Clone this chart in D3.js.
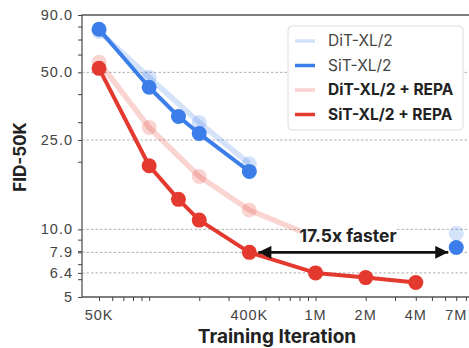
<!DOCTYPE html>
<html>
<head>
<meta charset="utf-8">
<script src="https://cdn.jsdelivr.net/npm/d3@7"></script>
<style>
  body { margin: 0; background: #fff; }
  svg { display: block; font-family: Inter, "Noto Sans", sans-serif; }
</style>
</head>
<body>
<svg id="chart" width="469" height="348"></svg>
<script>
// values
const xTickValues = [50e3, 400e3, 1e6, 2e6, 4e6, 7e6];
const xTickLabels = ['50K', '400K', '1M', '2M', '4M', '7M'];
const yTickValues = [5, 6.4, 7.9, 10, 25, 50, 90];
const yTickLabels = ['5', '6.4', '7.9', '10.0', '25.0', '50.0', '90.0'];
const yGridValues = [6.4, 7.9, 10, 25, 50];

const ditIters = [50e3, 100e3, 200e3, 400e3];
const ditFid = [76, 47.5, 29.9, 19.6];
const sitIters = [50e3, 100e3, 150e3, 200e3, 400e3];
const sitFid = [77.8, 42.9, 31.8, 26.7, 18.1];
const ditRepaIters = [50e3, 100e3, 200e3, 400e3, 1e6];
const ditRepaFid = [55.5, 28.4, 17.2, 12.2, 9.2];
const sitRepaIters = [50e3, 100e3, 150e3, 200e3, 400e3, 1e6, 2e6, 4e6];
const sitRepaFid = [52.1, 19.2, 13.6, 11.0, 7.9, 6.4, 6.1, 5.8];

// lone points at 7M
const finalIter = 7e6;
const ditFinalFid = 9.6;
const sitFinalFid = 8.3;

const speedupLabel = '17.5x faster';

const BLUE = '#3b7de9';
const RED = '#e4392e';
const FADE = 0.22;

const series = [
  { name: 'DiT-XL/2', iters: ditIters, fid: ditFid, color: BLUE, faded: true, bold: false },
  { name: 'SiT-XL/2', iters: sitIters, fid: sitFid, color: BLUE, faded: false, bold: false },
  { name: 'DiT-XL/2 + REPA', iters: ditRepaIters, fid: ditRepaFid, color: RED, faded: true, bold: true },
  { name: 'SiT-XL/2 + REPA', iters: sitRepaIters, fid: sitRepaFid, color: RED, faded: false, bold: true }
];

const svg = d3.select('#chart');
const plot = { left: 82, top: 15, right: 476, bottom: 297 };

const x = d3.scaleLog().domain([39.5e3, 9.2e6]).range([plot.left, plot.right]);
const y = d3.scaleLog().domain([5, 90]).range([plot.bottom, plot.top]);

// frame (top + left + bottom)
svg.append('path')
  .attr('d', `M${plot.right},${plot.top}H${plot.left}V${plot.bottom}H${plot.right}`)
  .attr('fill', 'none')
  .attr('stroke', '#555')
  .attr('stroke-width', 1.3);

// dashed grid
svg.append('g')
  .selectAll('line')
  .data(yGridValues)
  .join('line')
  .attr('x1', plot.left)
  .attr('x2', plot.right)
  .attr('y1', d => y(d))
  .attr('y2', d => y(d))
  .attr('stroke', '#999')
  .attr('stroke-width', 0.8)
  .attr('stroke-dasharray', '2.5,2');

// x axis: minor log ticks + labelled ticks
const xMinor = x.ticks().filter(d => d >= 50e3);
const $xAxis = svg.append('g').attr('transform', `translate(0,${plot.bottom})`);
$xAxis.call(
  d3.axisBottom(x).tickValues(xMinor).tickSize(4).tickFormat('')
).call(g => g.select('.domain').remove())
  .call(g => g.selectAll('line').attr('stroke', '#444'));
$xAxis.append('g')
  .selectAll('text')
  .data(xTickValues)
  .join('text')
  .attr('x', d => x(d))
  .attr('y', 23)
  .attr('text-anchor', 'middle')
  .attr('font-size', 14.5)
  .attr('letter-spacing', 1)
  .attr('fill', '#444')
  .text((d, i) => xTickLabels[i]);

// y axis
const yMinor = y.ticks();
const $yAxis = svg.append('g').attr('transform', `translate(${plot.left},0)`);
$yAxis.call(
  d3.axisLeft(y).tickValues(d3.union(yMinor, yTickValues)).tickSize(4).tickFormat('')
).call(g => g.select('.domain').remove())
  .call(g => g.selectAll('line').attr('stroke', '#444'));
$yAxis.append('g')
  .selectAll('text')
  .data(yTickValues)
  .join('text')
  .attr('x', -9)
  .attr('y', d => y(d))
  .attr('dy', '0.35em')
  .attr('text-anchor', 'end')
  .attr('font-size', 14.5)
  .attr('letter-spacing', 1)
  .attr('fill', '#444')
  .text((d, i) => yTickLabels[i]);

// axis titles
svg.append('text')
  .attr('x', 277)
  .attr('y', 343)
  .attr('text-anchor', 'middle')
  .attr('font-size', 19)
  .attr('font-weight', 700)
  .attr('fill', '#222')
  .text('Training Iteration');

svg.append('text')
  .attr('transform', 'translate(26,157) rotate(-90)')
  .attr('text-anchor', 'middle')
  .attr('font-size', 17)
  .attr('font-weight', 700)
  .attr('fill', '#222')
  .text('FID-50K');

// series
const line = d3.line().x(d => x(d[0])).y(d => y(d[1]));
const $series = svg.append('g')
  .selectAll('g')
  .data(series)
  .join('g');

$series.append('path')
  .attr('d', d => line(d3.zip(d.iters, d.fid)))
  .attr('fill', 'none')
  .attr('stroke', d => d.color)
  .attr('stroke-width', d => d.faded ? 5.5 : 4)
  .attr('stroke-linejoin', 'round')
  .attr('opacity', d => d.faded ? FADE : 1);

$series.each(function(s) {
  d3.select(this)
    .selectAll('circle')
    .data(d3.zip(s.iters, s.fid))
    .join('circle')
    .attr('cx', d => x(d[0]))
    .attr('cy', d => y(d[1]))
    .attr('r', 7.5)
    .attr('fill', s.color)
    .attr('opacity', s.faded ? FADE : 1);
});

// lone 7M points
svg.append('circle')
  .attr('cx', x(finalIter)).attr('cy', y(ditFinalFid)).attr('r', 7.5)
  .attr('fill', BLUE).attr('opacity', FADE);
svg.append('circle')
  .attr('cx', x(finalIter)).attr('cy', y(sitFinalFid)).attr('r', 7.5)
  .attr('fill', BLUE);

// speed-up arrow
const defs = svg.append('defs');
['start', 'end'].forEach(k => {
  defs.append('marker')
    .attr('id', 'arrow-' + k)
    .attr('viewBox', '0 0 10 10')
    .attr('refX', 10)
    .attr('refY', 5)
    .attr('markerWidth', 5.5)
    .attr('markerHeight', 5)
    .attr('markerUnits', 'strokeWidth')
    .attr('orient', k === 'start' ? 'auto-start-reverse' : 'auto')
    .append('path')
    .attr('d', 'M0,0L10,5L0,10Z')
    .attr('fill', '#111');
});

const arrowY = y(7.9);
const labelX = 348;
const $label = svg.append('g');
$label.append('rect')
  .attr('x', labelX - 48)
  .attr('y', arrowY - 28)
  .attr('width', 96)
  .attr('height', 22)
  .attr('fill', '#fff');
$label.append('text')
  .attr('x', labelX)
  .attr('y', arrowY - 10)
  .attr('text-anchor', 'middle')
  .attr('font-size', 17.5)
  .attr('font-weight', 700)
  .attr('fill', '#222')
  .text(speedupLabel);

svg.append('line')
  .attr('x1', x(400e3) + 9)
  .attr('x2', x(finalIter) - 8)
  .attr('y1', arrowY)
  .attr('y2', arrowY)
  .attr('stroke', '#111')
  .attr('stroke-width', 2.6)
  .attr('marker-start', 'url(#arrow-start)')
  .attr('marker-end', 'url(#arrow-end)');

// legend
const $legend = svg.append('g').attr('transform', 'translate(288,26)');
$legend.append('rect')
  .attr('width', 175)
  .attr('height', 104)
  .attr('rx', 4)
  .attr('fill', '#fff')
  .attr('stroke', '#ddd');
const $item = $legend.selectAll('g')
  .data(series)
  .join('g')
  .attr('transform', (d, i) => `translate(0,${15 + i * 24.5})`);
$item.append('line')
  .attr('x1', 7)
  .attr('x2', 27)
  .attr('stroke', d => d.color)
  .attr('stroke-width', 3.5)
  .attr('opacity', d => d.faded ? FADE : 1);
$item.append('text')
  .attr('x', 40)
  .attr('dy', '0.35em')
  .attr('font-size', 15.5)
  .attr('font-weight', d => d.bold ? 700 : 400)
  .attr('fill', d => d.bold ? '#222' : '#444')
  .text(d => d.name);
</script>
</body>
</html>
